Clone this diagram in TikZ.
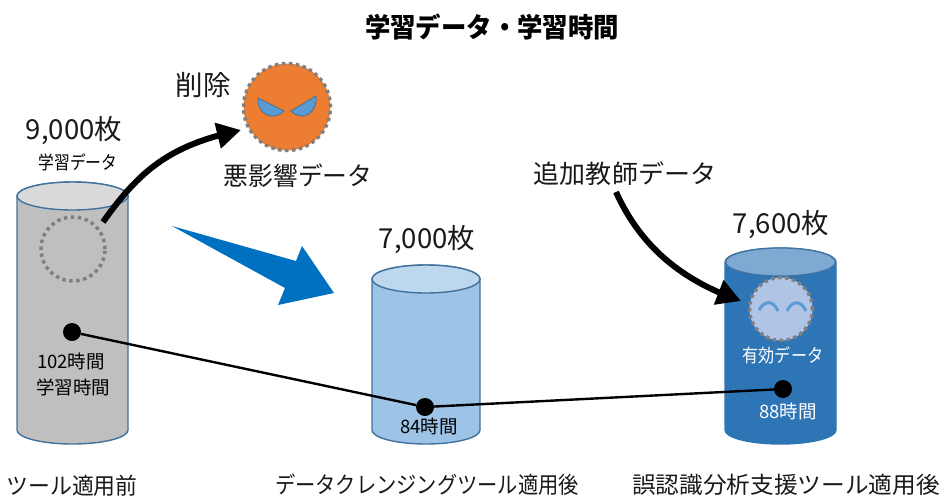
\documentclass[tikz,border=0pt]{standalone}
\usepackage{fontspec}
\usepackage{graphicx}
\setmainfont{Noto Sans CJK JP}
\usetikzlibrary{arrows.meta,bending}
\definecolor{greyA}{HTML}{BFBFBF}
\definecolor{greyB}{HTML}{D9D9D9}
\definecolor{edgeblue}{HTML}{41719C}
\definecolor{lightA}{HTML}{9DC3E6}
\definecolor{lightB}{HTML}{BDD7EE}
\definecolor{darkA}{HTML}{2E75B6}
\definecolor{darkB}{HTML}{7DA9D3}
\definecolor{bigarrow}{HTML}{0070C0}
\definecolor{angry}{HTML}{ED7D31}
\definecolor{eye}{HTML}{5B9BD5}
\definecolor{calm}{HTML}{B0C4E6}
\definecolor{dots}{HTML}{7F7F7F}
\tikzset{
  x=1pt,y=-1pt,
  bigtext/.style={font=\fontsize{27.5}{30}\selectfont,inner sep=0pt,text=black!90},
  midtext/.style={font=\fontsize{18.5}{21}\selectfont,inner sep=0pt},
  captext/.style={font=\fontsize{25.5}{28}\selectfont,inner sep=0pt,text=black!90},
  bottomtext/.style={font=\fontsize{23}{26}\selectfont,inner sep=0pt,text=black!90},
  dotnode/.style={circle,fill=black,inner sep=0pt,minimum size=18pt},
  ring/.style={draw=dots,line width=3.5pt,dash pattern=on 3.4pt off 3.6pt},
  curvedarrow/.style={line width=6pt,-{Triangle[length=24pt,width=25pt,flex]}},
  linkline/.style={line width=2.4pt,black},
  cyl/.style={draw=edgeblue,line width=1.4pt}
}
\newcommand{\nrw}[2]{\scalebox{#1}[1]{#2}}
\newcommand{\cylshape}[6]{% left right topy bottomy fillbody filltop
  \path[cyl,fill=#5] (#1,#3) -- (#1,#4) arc[start angle=180,end angle=0,x radius={(#2-#1)/2},y radius=14] -- (#2,#3) arc[start angle=0,end angle=-180,x radius={(#2-#1)/2},y radius=14] -- cycle;
  \path[cyl,fill=#6] ({(#1+#2)/2},#3) ellipse[x radius={(#2-#1)/2},y radius=14];
}
\begin{document}
\begin{tikzpicture}
\useasboundingbox (0,0) rectangle (944,499);
\node[inner sep=0pt,font=\fontsize{27}{30}\bfseries\selectfont] (title) at (492,27) {\nrw{.94}{学習データ・学習時間}};

% cylinders
\cylshape{17}{128}{196}{430}{greyA}{greyB}
\cylshape{372}{480}{279}{430}{lightA}{lightB}
\path[draw=darkA,line width=1.4pt,fill=darkA] (725,262) -- (725,430) arc[start angle=180,end angle=0,x radius=55.5,y radius=14] -- (836,262) arc[start angle=0,end angle=-180,x radius=55.5,y radius=14] -- cycle;
\path[draw=edgeblue,line width=1.2pt,fill=darkB] (780.5,262) ellipse[x radius=55,y radius=14];

% big blue arrow
\fill[bigarrow] (172,226) -- (296,261) -- (302,246) -- (334,293) -- (278,305) -- (285,288) -- cycle;

% face circles
\node[circle,ring,minimum size=64pt,inner sep=0pt] (ghost) at (73,249) {};
\node[circle,ring,fill=angry,minimum size=87pt,inner sep=0pt] (bad) at (287,107) {};
\node[circle,ring,fill=calm,minimum size=63pt,inner sep=0pt] (good) at (781,309) {};
% angry eyes
\fill[eye,draw=edgeblue,line width=.8pt] (258,98) .. controls (256,112) and (272,123) .. (284,111) -- cycle;
\fill[eye,draw=edgeblue,line width=.8pt] (316,96) .. controls (318,112) and (303,123) .. (291,111) -- cycle;
% calm eyes
\draw[eye,line width=3pt] (759,310) .. controls (765,300) and (773,300) .. (778,311);
\draw[eye,line width=3pt] (787,311) .. controls (792,300) and (801,300) .. (806,311);

% curved arrows
\coordinate (fromghost) at (103,222);
\coordinate (frombad) at (241,130);
\draw[curvedarrow] (fromghost) .. controls (140,170) and (170,145) .. (frombad);
\node[captext] (extra) at (625,174) {\nrw{1.02}{追加教師データ}};
\coordinate (extraend) at (616,192);
\coordinate (goodend) at (741,301);
\draw[curvedarrow] (extraend) .. controls (640,245) and (680,280) .. (goodend);

% dots and links
\node[dotnode] (d1) at (72,332) {};
\node[dotnode] (d2) at (425,407) {};
\node[dotnode] (d3) at (783,389) {};
\draw[linkline] (d1) -- (d2);
\draw[linkline] (d2) -- (d3);

% labels
\node[bigtext] (n1) at (74,131) {9,000枚};
\node[midtext] (l1) at (78,162) {\nrw{.85}{学習データ}};
\node[captext,font=\fontsize{27.5}{30}\selectfont] (del) at (203,85) {削除};
\node[captext] (badl) at (298,176) {\nrw{.97}{悪影響データ}};
\node[bigtext] (n2) at (427,240) {7,000枚};
\node[bigtext] (n3) at (781,225) {7,600枚};
\node[midtext,text=white] (ok) at (783,355) {\nrw{.87}{有効データ}};
\node[midtext,text=white] (h3) at (788,411) {88時間};
\node[midtext] (h2) at (429,426) {84時間};
\node[midtext] (h1) at (71,361) {102時間};
\node[midtext] (h1b) at (73,387) {学習時間};
\node[bottomtext] (c1) at (72,486) {\nrw{.95}{ツール適用前}};
\node[bottomtext] (c2) at (427,485) {\nrw{.88}{データクレンジングツール適用後}};
\node[bottomtext] (c3) at (786,485) {\nrw{1.03}{誤認識分析支援ツール適用後}};
\end{tikzpicture}
\end{document}
